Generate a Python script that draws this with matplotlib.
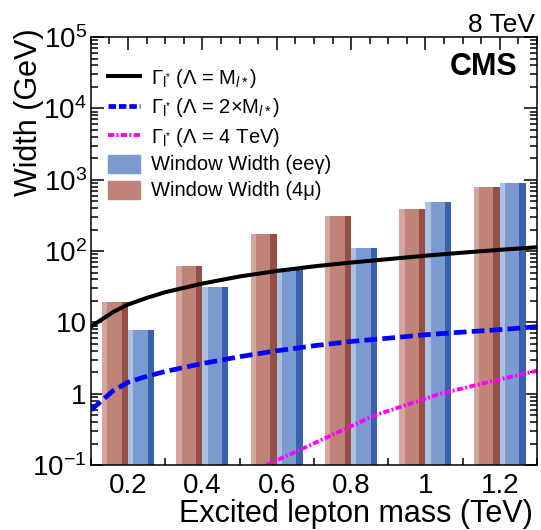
import matplotlib
matplotlib.use('Agg')
import matplotlib.pyplot as plt
from matplotlib.lines import Line2D
from matplotlib.patches import Patch
from matplotlib.ticker import MultipleLocator, LogLocator, FixedLocator, FixedFormatter, NullFormatter

plt.rcParams['font.family'] = 'Liberation Sans'
plt.rcParams['mathtext.fontset'] = 'custom'
plt.rcParams['mathtext.rm'] = 'Liberation Sans'
plt.rcParams['mathtext.it'] = 'Liberation Sans:italic'
plt.rcParams['mathtext.bf'] = 'Liberation Sans:bold'

# excited lepton masses (TeV) of the window-width bars
masses = [0.2, 0.4, 0.6, 0.8, 1.0, 1.2]
width_4mu = [19.5, 62, 174, 310, 386, 780]
width_eeg = [7.8, 31.5, 57, 109, 493, 885]

# natural width curves
m_curve = [0.1, 0.16, 0.2, 0.25, 0.3, 0.4, 0.5, 0.6, 0.7, 0.8, 0.9, 1.0, 1.1, 1.2, 1.3]
gamma_lam_m = [8.7, 14, 17.8, 22, 26.5, 35, 44, 52.5, 61, 69, 77, 86, 95, 104, 113]
gamma_lam_2m = [0.59, 1.1, 1.45, 1.75, 2.05, 2.65, 3.3, 4.0, 4.7, 5.4, 6.0, 6.7, 7.3, 7.9, 8.7]
m_curve_4tev = [0.572, 0.68, 0.86, 1.04, 1.22, 1.3]
gamma_lam_4tev = [0.1, 0.18, 0.49, 1.0, 1.68, 2.1]

y_ticks = [1e-1, 1, 10, 1e2, 1e3, 1e4, 1e5]
y_ticklabels = [r'$10^{-1}$', '1', '10', r'$10^{2}$', r'$10^{3}$', r'$10^{4}$', r'$10^{5}$']

red = ['#d4a6a0', '#c0837a', '#955046']
blue = ['#acc0e4', '#7a9ad0', '#3a62ac']

fig = plt.figure(figsize=(5.41, 5.30), dpi=100)
ax = fig.add_axes([0.168, 0.1226, 0.8246, 0.8075])
ax.set_yscale('log')
ax.set_axisbelow(True)


def shaded_bars(x0, heights, colors, w=0.07):
    # ROOT-like bar: light strip, body, dark strip
    parts = [(0.0, 0.2), (0.2, 0.55), (0.75, 0.25)]
    for (off, frac), c in zip(parts, colors):
        ax.bar([x + off * w for x in x0], heights, width=frac * w, align='edge',
               color=c, linewidth=0, bottom=1e-3)


shaded_bars([m - 0.07 for m in masses], width_4mu, red)
shaded_bars(masses, width_eeg, blue)

ax.plot(m_curve, gamma_lam_m, color='black', lw=2.9, solid_capstyle='butt')
ax.plot(m_curve, gamma_lam_2m, color='#0000ff', lw=3.4, dashes=(2.7, 1.1))
ax.plot(m_curve_4tev, gamma_lam_4tev, color='#ff00ff', lw=2.8, dashes=(1.6, 0.6, 0.5, 0.6))

ax.set_xlim(0.1, 1.3)
ax.set_ylim(1e-1, 1e5)

ax.set_xticks([0.2, 0.4, 0.6, 0.8, 1.0, 1.2])
ax.set_xticklabels(['0.2', '0.4', '0.6', '0.8', '1', '1.2'])
ax.xaxis.set_minor_locator(MultipleLocator(0.05))
ax.yaxis.set_major_locator(FixedLocator(y_ticks))
ax.yaxis.set_major_formatter(FixedFormatter(y_ticklabels))
ax.yaxis.set_minor_locator(LogLocator(base=10, subs=range(2, 10), numticks=20))
ax.yaxis.set_minor_formatter(NullFormatter())

ax.tick_params(which='both', direction='in', top=True, right=True, width=1.1, labelsize=20)
ax.tick_params(which='major', length=9.5)
ax.tick_params(which='minor', length=5)
ax.tick_params(axis='x', pad=6)
ax.tick_params(axis='y', pad=3)
for s in ax.spines.values():
    s.set_linewidth(1.1)

ax.set_xlabel('Excited lepton mass (TeV)', fontsize=22, loc='right')
ax.xaxis.set_label_coords(0.991, -0.079)
ax.xaxis.label.set_va('top')
ax.set_ylabel('Width (GeV)', fontsize=22, loc='top')
ax.yaxis.set_label_coords(-0.106, 1.02)

ax.text(0.957, 0.911, 'CMS', transform=ax.transAxes, ha='right', va='baseline',
        fontsize=22, fontweight='bold')
ax.text(0.995, 1.012, '8 TeV', transform=ax.transAxes, ha='right', va='baseline', fontsize=19)

handles = [
    Line2D([], [], color='black', lw=2.9),
    Line2D([], [], color='#0000ff', lw=3.4, dashes=(1.6, 0.6)),
    Line2D([], [], color='#ff00ff', lw=2.8, dashes=(1.6, 0.6, 0.5, 0.6)),
    Patch(color=blue[1]),
    Patch(color=red[1]),
]
labels = [
    r'$\Gamma_{\mathrm{l}^{*}}$ ($\Lambda$ = M$_{l*}$)',
    r'$\Gamma_{\mathrm{l}^{*}}$ ($\Lambda$ = 2$\times$M$_{l*}$)',
    r'$\Gamma_{\mathrm{l}^{*}}$ ($\Lambda$ = 4 TeV)',
    'Window Width (ee\u03b3)',
    'Window Width (4\u03bc)',
]
ax.legend(handles, labels, loc='upper left', bbox_to_anchor=(0.038, 0.929), frameon=False,
          fontsize=14.5, borderpad=0, borderaxespad=0, handlelength=1.6, handleheight=1.0,
          handletextpad=0.55, labelspacing=0.3)

fig.savefig('out.png', dpi=100)
